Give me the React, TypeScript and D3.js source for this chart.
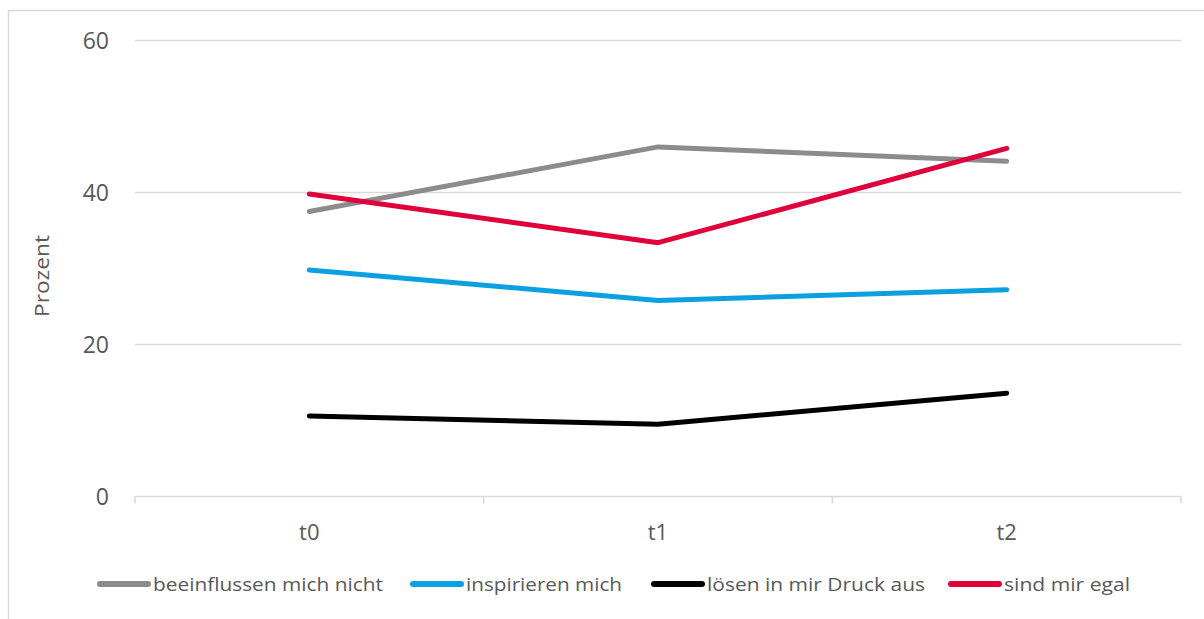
import React from "react";
import * as d3 from "d3";

const categories = ["t0", "t1", "t2"];
const seriesNames = [
  "beeinflussen mich nicht",
  "inspirieren mich",
  "lösen in mir Druck aus",
  "sind mir egal",
];
const beeinflussen = [37.5, 46.0, 44.1];
const inspirieren = [29.8, 25.8, 27.2];
const druck = [10.6, 9.5, 13.6];
const egal = [39.8, 33.4, 45.8];
const yTicks = [0, 20, 40, 60];
const colors = ["#8c8c8c", "#0ba0e0", "#000000", "#e0003a"];

const seriesValues = [beeinflussen, inspirieren, druck, egal];
// drawing order: grey, blue, black, red on top
const drawOrder = [0, 1, 2, 3];

const W = 1204;
const H = 619;
const plot = { left: 135, right: 1181, top: 40.5, bottom: 496.5 };

// legend layout: x where each swatch starts, and text widths
const legendX = [97, 410, 651, 948];
const legendTextW = [230, 156, 218, 126];

export default function App() {
  const x = d3
    .scaleBand<string>()
    .domain(categories)
    .range([plot.left, plot.right])
    .paddingInner(0)
    .paddingOuter(0);
  const y = d3.scaleLinear().domain([0, 60]).range([plot.bottom, plot.top]);
  const cx = (c: string) => (x(c) as number) + x.bandwidth() / 2;

  const line = d3
    .line<number>()
    .x((_, i) => cx(categories[i]))
    .y((d) => y(d));

  const boundaries = [...categories.map((c) => x(c) as number), plot.right];
  const font = "'Open Sans', sans-serif";
  const textColor = "#595959";

  return (
    <svg
      width={W}
      height={H}
      style={{ position: "absolute", left: 0, top: 0, display: "block", background: "#fff" }}
    >
      <rect x={8.5} y={10.5} width={1210} height={640} fill="#fff" stroke="#d9d9d9" strokeWidth={1.5} />

      {/* gridlines */}
      {yTicks.map((t) => (
        <g key={t}>
          <line
            x1={plot.left}
            x2={plot.right}
            y1={y(t)}
            y2={y(t)}
            stroke="#d9d9d9"
            strokeWidth={1.5}
          />
          <text
            x={109}
            y={y(t)}
            dy="0.36em"
            textAnchor="end"
            fontFamily={font}
            fontSize={23}
            fill={textColor}
          >
            {t}
          </text>
        </g>
      ))}

      {/* category tick marks */}
      {boundaries.map((b, i) => (
        <line
          key={i}
          x1={b}
          x2={b}
          y1={plot.bottom}
          y2={plot.bottom + 7}
          stroke="#d9d9d9"
          strokeWidth={1.5}
        />
      ))}

      {categories.map((c) => (
        <text
          key={c}
          x={cx(c)}
          y={540}
          textAnchor="middle"
          fontFamily={font}
          fontSize={22}
          fill={textColor}
        >
          {c}
        </text>
      ))}

      <text
        transform={`translate(49, 276) rotate(-90)`}
        textAnchor="middle"
        fontFamily={font}
        fontSize={20}
        fill={textColor}
        textLength={82}
        lengthAdjust="spacingAndGlyphs"
      >
        Prozent
      </text>

      {/* series lines */}
      {drawOrder.map((i) => (
        <path
          key={seriesNames[i]}
          d={line(seriesValues[i]) as string}
          fill="none"
          stroke={colors[i]}
          strokeWidth={5}
          strokeLinecap="round"
          strokeLinejoin="round"
        />
      ))}

      {/* legend */}
      {seriesNames.map((name, i) => (
        <g key={name}>
          <line
            x1={legendX[i] + 3}
            x2={legendX[i] + 51}
            y1={584}
            y2={584}
            stroke={colors[i]}
            strokeWidth={6}
            strokeLinecap="round"
          />
          <text
            x={legendX[i] + 56}
            y={584}
            dy="0.36em"
            fontFamily={font}
            fontSize={19}
            fill={textColor}
            textLength={legendTextW[i]}
            lengthAdjust="spacingAndGlyphs"
          >
            {name}
          </text>
        </g>
      ))}
    </svg>
  );
}
